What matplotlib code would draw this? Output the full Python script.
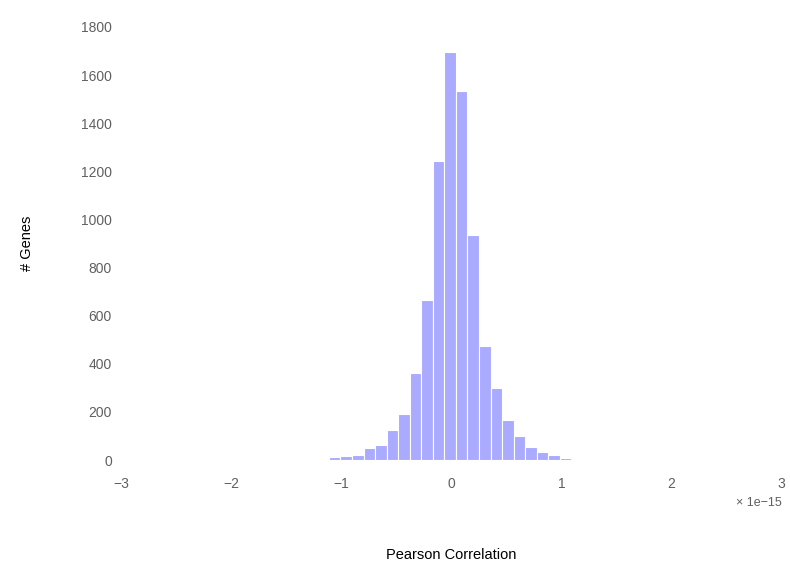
import matplotlib.pyplot as plt
import numpy as np

plt.rcParams['font.family'] = ['Liberation Sans', 'DejaVu Sans']

# histogram of Pearson correlations (x in units of 1e-15)
bin_edges = [-1.64, -1.535, -1.43, -1.325, -1.22, -1.115, -1.01, -0.905, -0.80,
             -0.695, -0.59, -0.485, -0.38, -0.275, -0.17, -0.065, 0.04, 0.145,
             0.25, 0.355, 0.46, 0.565, 0.67, 0.775, 0.88, 0.985, 1.09, 1.195,
             1.30, 1.405, 1.51, 1.615, 1.72, 1.825]
gene_counts = [1, 1, 2, 3, 6, 11, 18, 21, 49, 61, 126, 190, 361, 667, 1243,
               1695, 1535, 935, 474, 299, 166, 101, 53, 35, 20, 7, 5, 3, 2, 1,
               1, 1, 1]
x_ticks = [-3, -2, -1, 0, 1, 2, 3]
y_ticks = [0, 200, 400, 600, 800, 1000, 1200, 1400, 1600, 1800]

edges = np.array(bin_edges)
centers = (edges[:-1] + edges[1:]) / 2

fig = plt.figure(figsize=(7.9, 5.61), dpi=100)
ax = fig.add_axes([0.154, 0.18, 0.835, 0.772])
ax.hist(centers, bins=edges, weights=gene_counts, color='#aaaaff',
        edgecolor='white', linewidth=0.8)

ax.set_xlim(-3, 3)
ax.set_ylim(0, 1800)
ax.set_xticks(x_ticks)
ax.set_yticks(y_ticks)
ax.tick_params(length=0, labelsize=10, labelcolor='#606060')
ax.tick_params(axis='x', pad=12)
ax.tick_params(axis='y', pad=7)
for s in ax.spines.values():
    s.set_visible(False)

ax.text(1.0, -0.086, '\u00d7 1e\u221215', transform=ax.transAxes, ha='right',
        va='top', fontsize=9, color='#606060')
ax.set_xlabel('Pearson Correlation', fontsize=10.5, labelpad=41)
ax.set_ylabel('# Genes', fontsize=10.5, labelpad=34)

fig.savefig('out.png', dpi=100)
